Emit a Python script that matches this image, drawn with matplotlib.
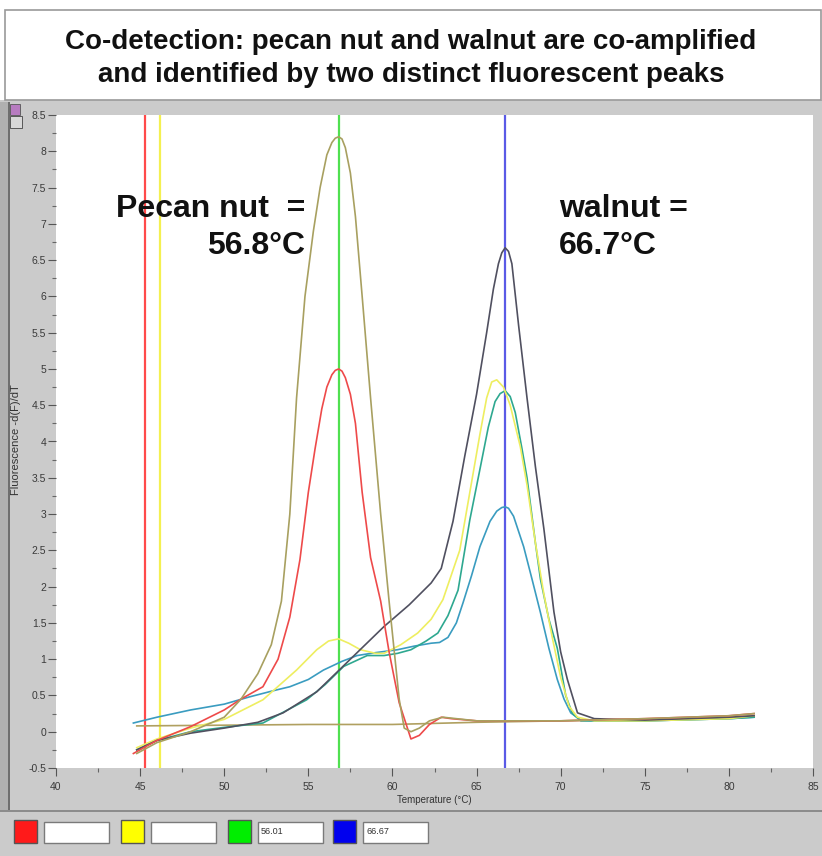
import matplotlib
matplotlib.use("Agg")
import matplotlib.pyplot as plt
from matplotlib.patches import Rectangle

# ---------------- data ----------------
pecan_T = [44.8, 46, 48, 50, 51, 52, 52.8, 53.4, 53.9, 54.3, 54.8, 55.3, 55.7, 56.1, 56.4, 56.6, 56.8, 57.0, 57.2, 57.5, 57.8, 58.2, 58.7, 59.3, 59.8, 60.4, 60.7, 61.1, 61.6, 62.2, 63, 65, 70, 75, 80, 81.5]
pecan_v = [-0.3, -0.15, 0.0, 0.2, 0.45, 0.8, 1.2, 1.8, 3.0, 4.6, 6.0, 6.9, 7.5, 7.95, 8.12, 8.18, 8.2, 8.17, 8.05, 7.7, 7.1, 6.0, 4.6, 3.0, 1.8, 0.45, 0.05, 0.0, 0.05, 0.15, 0.2, 0.15, 0.15, 0.18, 0.22, 0.25]

red_T = [44.6, 46, 48, 50, 51, 52.3, 53.2, 53.9, 54.5, 55.0, 55.4, 55.8, 56.1, 56.4, 56.6, 56.8, 57.0, 57.2, 57.5, 57.8, 58.2, 58.7, 59.3, 59.8, 60.4, 61.1, 61.6, 62.2, 62.9, 63.5, 65, 70, 75, 80, 81.5]
red_v = [-0.3, -0.12, 0.07, 0.3, 0.45, 0.62, 1.0, 1.58, 2.37, 3.3, 3.9, 4.45, 4.75, 4.92, 4.98, 5.0, 4.97, 4.88, 4.65, 4.25, 3.3, 2.4, 1.8, 1.1, 0.4, -0.1, -0.05, 0.1, 0.2, 0.18, 0.15, 0.15, 0.18, 0.22, 0.25]

gray_T = [44.8, 46, 48, 50, 52, 53.5, 55.5, 57.5, 59.5, 61, 62.3, 62.9, 63.6, 64.3, 65, 65.6, 66.0, 66.3, 66.5, 66.7, 66.9, 67.1, 67.5, 68.0, 68.5, 69.0, 69.6, 70.0, 70.4, 71.0, 72, 75, 80, 81.5]
gray_v = [-0.25, -0.12, -0.02, 0.05, 0.13, 0.26, 0.55, 1.0, 1.45, 1.75, 2.05, 2.25, 2.9, 3.8, 4.65, 5.5, 6.1, 6.45, 6.6, 6.67, 6.62, 6.45, 5.6, 4.6, 3.65, 2.8, 1.65, 1.1, 0.72, 0.26, 0.18, 0.16, 0.2, 0.22]

yellow_T = [44.8, 46, 48, 50, 52.3, 54.3, 55.5, 56.2, 56.8, 57.4, 58.1, 59, 59.5, 60.5, 61.5, 62.3, 63, 64, 64.6, 65.2, 65.6, 65.9, 66.2, 66.6, 67, 67.6, 68, 68.5, 69, 69.5, 70, 70.5, 71, 72, 75, 80, 81.5]
yellow_v = [-0.22, -0.1, 0.05, 0.17, 0.44, 0.85, 1.13, 1.25, 1.28, 1.22, 1.13, 1.08, 1.08, 1.2, 1.36, 1.55, 1.82, 2.5, 3.3, 4.1, 4.6, 4.82, 4.85, 4.75, 4.5, 3.93, 3.4, 2.6, 1.9, 1.3, 0.75, 0.35, 0.2, 0.15, 0.15, 0.18, 0.22]

green_T = [44.8, 46, 48, 50, 52.3, 54.9, 56, 57.1, 58.5, 59.5, 60.3, 61.1, 62, 62.7, 63.3, 63.9, 64.6, 65.1, 65.7, 66.1, 66.4, 66.7, 67.0, 67.3, 67.7, 68.0, 68.5, 68.8, 69.3, 69.8, 70.3, 70.7, 71.2, 72, 75, 80, 81.5]
green_v = [-0.25, -0.12, 0.0, 0.06, 0.12, 0.44, 0.65, 0.9, 1.05, 1.05, 1.08, 1.13, 1.25, 1.36, 1.6, 1.95, 2.92, 3.5, 4.2, 4.55, 4.66, 4.7, 4.62, 4.4, 3.9, 3.5, 2.6, 2.1, 1.55, 1.15, 0.5, 0.25, 0.15, 0.15, 0.15, 0.18, 0.2]

teal_T = [44.6, 46, 48, 50, 51.5, 53, 53.9, 55, 55.9, 57, 57.9, 59, 60.3, 61.3, 62.3, 62.8, 63.3, 63.8, 64.2, 64.7, 65.2, 65.8, 66.2, 66.5, 66.7, 66.9, 67.2, 67.8, 68.3, 68.8, 69.3, 69.8, 70.2, 70.6, 71.2, 72, 75, 80, 81.5]
teal_v = [0.12, 0.2, 0.3, 0.38, 0.48, 0.57, 0.62, 0.72, 0.85, 0.97, 1.05, 1.09, 1.13, 1.18, 1.22, 1.23, 1.3, 1.5, 1.78, 2.15, 2.55, 2.9, 3.04, 3.09, 3.1, 3.08, 2.97, 2.55, 2.1, 1.64, 1.15, 0.72, 0.45, 0.26, 0.16, 0.15, 0.15, 0.18, 0.2]

ntc_T = [44.8, 50, 55, 60, 65, 70, 75, 80, 81.5]
ntc_v = [0.08, 0.09, 0.1, 0.1, 0.13, 0.15, 0.17, 0.2, 0.22]

marker_T = [45.3, 46.2, 56.8, 66.67]
marker_colors = ["#ff4a4a", "#f4f050", "#50e050", "#5a5ae6"]
swatch_colors = ["#ff1a1a", "#ffff00", "#00ee00", "#0000ee"]
swatch_texts = ["", "", "56.01", "66.67"]

xticks = [40, 45, 50, 55, 60, 65, 70, 75, 80, 85]
yticks = [-0.5, 0, 0.5, 1, 1.5, 2, 2.5, 3, 3.5, 4, 4.5, 5, 5.5, 6, 6.5, 7, 7.5, 8, 8.5]
ytick_labels = ["-0.5", "0", "0.5", "1", "1.5", "2", "2.5", "3", "3.5", "4", "4.5", "5", "5.5", "6", "6.5", "7", "7.5", "8", "8.5"]

title_lines = ["Co-detection: pecan nut and walnut are co-amplified",
               "and identified by two distinct fluorescent peaks"]

# ---------------- figure ----------------
W, H = 822, 856
fig = plt.figure(figsize=(W / 100, H / 100), dpi=100)
fig.patch.set_facecolor("#cbcbcb")
plt.rcParams['font.family'] = ['Liberation Sans', 'DejaVu Sans']

def fx(px):
    return px / W

def fy(py):
    return 1 - py / H

# white strip at very top + title box
fig.patches.append(Rectangle((0, fy(100)), 1, 1 - fy(100), transform=fig.transFigure,
                             facecolor="white", edgecolor="none", zorder=0))
fig.patches.append(Rectangle((fx(5), fy(100)), fx(816), fy(10) - fy(100), transform=fig.transFigure,
                             facecolor="white", edgecolor="#9a9a9a", linewidth=1.2, zorder=1))
for i, line in enumerate(title_lines):
    fig.text(0.5, fy(42 + 33 * i), line, ha="center", va="center", fontsize=20,
             fontweight="bold", color="#111111")

# window frame details
fig.patches.append(Rectangle((fx(0), fy(812)), fx(9), fy(102) - fy(812), transform=fig.transFigure,
                             facecolor="#b0b0b0", edgecolor="none", zorder=1))
fig.patches.append(Rectangle((fx(8), fy(812)), fx(2), fy(102) - fy(812), transform=fig.transFigure,
                             facecolor="#6e6e6e", edgecolor="none", zorder=1))
fig.patches.append(Rectangle((fx(0), fy(812)), 1, fx(2) * W / H, transform=fig.transFigure,
                             facecolor="#8c8c8c", edgecolor="none", zorder=1))
fig.patches.append(Rectangle((fx(10), fy(115)), fx(10), fy(104) - fy(115), transform=fig.transFigure,
                             facecolor="#b77bc0", edgecolor="#555555", linewidth=0.6, zorder=2))
fig.patches.append(Rectangle((fx(10), fy(128)), fx(12), fy(116) - fy(128), transform=fig.transFigure,
                             facecolor="#d8d8d8", edgecolor="#444444", linewidth=0.6, zorder=2))

# ---------------- axes ----------------
ax = fig.add_axes([fx(56), fy(768), fx(813) - fx(56), fy(115) - fy(768)])
ax.set_facecolor("white")
ax.set_xlim(40, 85)
ax.set_ylim(-0.5, 8.5)
for s in ax.spines.values():
    s.set_visible(False)

ax.set_xticks(xticks)
ax.set_xticklabels([str(t) for t in xticks])
ax.set_xticks([t + 2.5 for t in xticks[:-1]], minor=True)
ax.set_yticks(yticks)
ax.set_yticklabels(ytick_labels)
ax.set_yticks([t + 0.25 for t in yticks[:-1]], minor=True)
ax.tick_params(axis="both", which="major", direction="out", length=6, width=0.8,
               colors="#555555", labelsize=7.5, labelcolor="#3a3a3a")
ax.tick_params(axis="both", which="minor", direction="out", length=3, width=0.8, colors="#666666")
ax.tick_params(axis="x", pad=4)
ax.tick_params(axis="y", pad=1)

ax.set_xlabel("Temperature (°C)", fontsize=7, color="#333333", labelpad=2)
fig.text(fx(16), fy(440), "Fluorescence -d(F)/dT", rotation=90, fontsize=8,
         color="#333333", ha="center", va="center")

# marker lines
for t, c in zip(marker_T, marker_colors):
    ax.axvline(t, color=c, linewidth=1.6, zorder=1)

# curves
lw = 1.2
ax.plot(ntc_T, ntc_v, color="#b0a060", linewidth=lw, zorder=2)
ax.plot(teal_T, teal_v, color="#3a9cc0", linewidth=lw, zorder=3)
ax.plot(green_T, green_v, color="#2ea890", linewidth=lw, zorder=3)
ax.plot(yellow_T, yellow_v, color="#eeee60", linewidth=lw, zorder=3)
ax.plot(gray_T, gray_v, color="#505060", linewidth=lw, zorder=3)
ax.plot(red_T, red_v, color="#ee4a4a", linewidth=lw, zorder=4)
ax.plot(pecan_T, pecan_v, color="#a8a060", linewidth=lw, zorder=4)

# annotations
xr = 40 + (305 - 56) / 16.8
xl = 40 + (558 - 56) / 16.8
for x, ha, l1, l2 in [(xr, "right", "Pecan nut  =", "56.8°C"), (xl, "left", "walnut =", "66.7°C")]:
    ax.text(x, 7.2, l1, ha=ha, va="center", fontsize=23, fontweight="bold", color="#111111")
    ax.text(x, 6.7, l2, ha=ha, va="center", fontsize=23, fontweight="bold", color="#111111")

# ---------------- legend strip ----------------
sw_x = [14, 121, 228, 333]
for x0, c, txt in zip(sw_x, swatch_colors, swatch_texts):
    fig.patches.append(Rectangle((fx(x0), fy(843)), fx(23), fy(820) - fy(843), transform=fig.transFigure,
                                 facecolor=c, edgecolor="#555555", linewidth=1.0, zorder=2))
    fig.patches.append(Rectangle((fx(x0 + 30), fy(843)), fx(65), fy(822) - fy(843), transform=fig.transFigure,
                                 facecolor="white", edgecolor="#7a7a7a", linewidth=1.0, zorder=2))
    if txt:
        fig.text(fx(x0 + 33), fy(832), txt, fontsize=6.5, color="#333333", va="center", ha="left")

fig.savefig("out.png", dpi=100, facecolor=fig.get_facecolor())
